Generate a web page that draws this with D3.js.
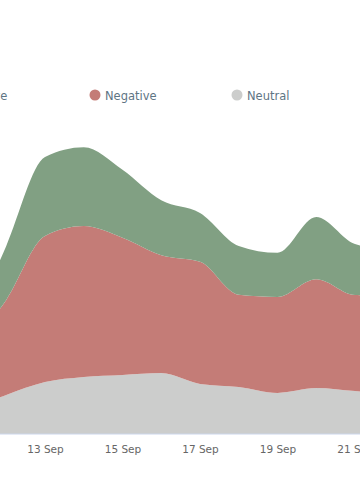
<!DOCTYPE html>
<html>
<head>
<meta charset="utf-8">
<script src="https://cdn.jsdelivr.net/npm/d3@7"></script>
<style>
  html, body { margin: 0; padding: 0; background: #ffffff; overflow: hidden; }
  svg { display: block; font-family: "DejaVu Sans", sans-serif; }
</style>
</head>
<body>
<svg id="chart" width="360" height="500"></svg>
<script>
// ---- Data ----
const dates = ["2023-09-11","2023-09-12","2023-09-13","2023-09-14","2023-09-15","2023-09-16",
               "2023-09-17","2023-09-18","2023-09-19","2023-09-20","2023-09-21","2023-09-22"];
const positive = [5, 18, 26.3, 26.3, 22.7, 18.3, 16.3, 16.3, 14.7, 20.7, 17, 15.3];
const negative = [20, 31.7, 48.7, 50.3, 45.7, 39.3, 40.7, 30.7, 32, 36.3, 32, 32.3];
const neutral  = [8, 13, 17.3, 19, 19.7, 20.3, 16.7, 15.7, 13.7, 15.3, 14.3, 13.7];
const seriesNames = ["Positive", "Negative", "Neutral"];
const tickLabels = ["11 Sep", "13 Sep", "15 Sep", "17 Sep", "19 Sep", "21 Sep", "23 Sep"];
const colors = { Positive: "#81a083", Negative: "#c47c77", Neutral: "#cccdcc" };

// ---- Build table ----
const parse = d3.utcParse("%Y-%m-%d");
const rows = dates.map((d, i) => ({
  date: parse(d), Positive: positive[i], Negative: negative[i], Neutral: neutral[i]
}));

const svg = d3.select("#chart");
const baseY = 434;

const x = d3.scaleUtc()
  .domain([parse("2023-09-13"), parse("2023-09-21")])
  .range([45, 355]);
const y = d3.scaleLinear().domain([0, 100]).range([baseY, 134]);

const stack = d3.stack().keys(["Neutral", "Negative", "Positive"]);
const layers = stack(rows);

const area = d3.area()
  .x(d => x(d.data.date))
  .y0(d => y(d[0]))
  .y1(d => y(d[1]))
  .curve(d3.curveMonotoneX);

svg.append("g").selectAll("path")
  .data(layers)
  .join("path")
  .attr("d", area)
  .attr("fill", d => colors[d.key]);

// ---- X axis ----
const tickDates = tickLabels.map(t => d3.utcParse("%d %b %Y")(t + " 2023"));
const xAxis = d3.axisBottom(x)
  .tickValues(tickDates)
  .tickFormat(d3.utcFormat("%d Sep"))
  .tickSize(0)
  .tickPadding(12);
const gx = svg.append("g").attr("transform", `translate(0,${baseY})`).call(xAxis);
gx.select(".domain").remove();
gx.append("line")
  .attr("x1", -100).attr("x2", 460)
  .attr("stroke", "#ccd6eb").attr("stroke-width", 1);
gx.selectAll("text")
  .attr("fill", "#666666")
  .style("font-size", "10.5px")
  .style("font-family", "'DejaVu Sans', sans-serif");

// ---- Legend ----
const legendX = { Positive: -47, Negative: 95, Neutral: 237 };
const lg = svg.append("g").attr("transform", "translate(0,95)");
const items = lg.selectAll("g").data(seriesNames).join("g")
  .attr("transform", d => `translate(${legendX[d]},0)`);
items.append("circle").attr("r", 5.5).attr("fill", d => colors[d]);
items.append("text")
  .attr("x", 10).attr("y", 4.5)
  .attr("fill", "#5e7584")
  .style("font-size", "11.5px")
  .text(d => d);
</script>
</body>
</html>
